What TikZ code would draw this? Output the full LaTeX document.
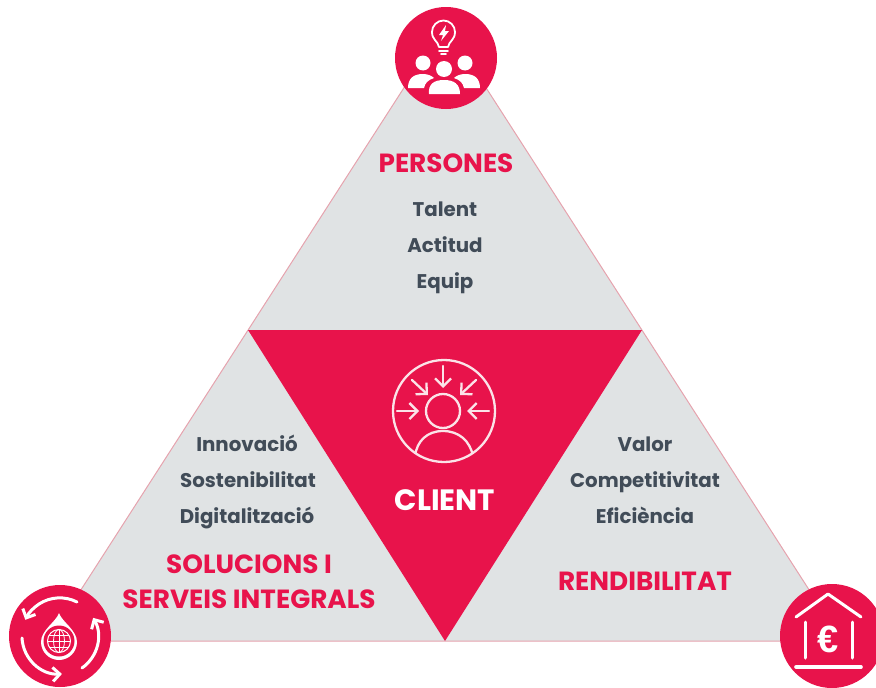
\documentclass[tikz,border=0pt]{standalone}
\usepackage{fontspec}
\setmainfont{Poppins}
\newfontfamily\eurofont{Liberation Sans}
\usetikzlibrary{arrows.meta}
\definecolor{crimson}{HTML}{E8134B}
\definecolor{panelgray}{HTML}{E0E3E4}
\definecolor{edgepink}{HTML}{E6A3AE}
\definecolor{slategray}{HTML}{414C58}
\definecolor{iconpink}{HTML}{FBE3E8}
\tikzset{
  redlabel/.style={text=crimson, yshift=-6pt, text height=.72em, text depth=0pt, font=\fontsize{26.3}{28}\selectfont\bfseries},
  graylabel/.style={text=slategray, yshift=-5pt, text height=.75em, text depth=.2em, font=\fontsize{19.8}{22}\selectfont\bfseries},
  iconline/.style={draw=white, line width=3pt, line cap=round, line join=round},
  thinline/.style={draw=iconpink, line width=2.3pt, line cap=round, line join=round},
  iconarrow/.style={iconline, -{Straight Barb[length=7pt,width=14pt]}},
  thinarrow/.style={thinline, -{Straight Barb[length=8pt,width=16pt]}},
}
\begin{document}
\begin{tikzpicture}[x=1pt,y=-1pt]
\useasboundingbox (0,0) rectangle (876,688);
\draw [edgepink, fill=panelgray, line width=1pt] (445,24) -- (842,641) -- (48,641) -- cycle;
\fill [crimson] (248,330) -- (642,330) -- (445,641) -- cycle;
\fill [crimson] (446,58) circle (51);
\fill [crimson] (60,636) circle (51);
\fill [crimson] (832,636) circle (52);
% top icon
\draw [iconline, line width=1.8pt] (439,47) .. controls (438,41) and (432,40) .. (432,32) arc (180:360:11.5) .. controls (455,40) and (449,41) .. (448,47) -- cycle;
\fill [white] (446,25) -- (439,35) -- (443,35) -- (441,41) -- (449,31) -- (445,31) -- cycle;
\draw [iconline, line width=1.6pt] (439,51) -- (448,51);
\draw [iconline, line width=1.6pt] (441,54) -- (446,54);
\fill [white] (423,63) circle (7.5);
\fill [white] (465,63) circle (7.5);
\fill [white] (408,88) .. controls (408,78) and (414,74) .. (423,74) .. controls (428,74) and (432,76) .. (434,78) .. controls (428,80) and (425,83) .. (424,88) -- cycle;
\fill [white] (480,88) .. controls (480,78) and (474,74) .. (465,74) .. controls (460,74) and (456,76) .. (454,78) .. controls (460,80) and (463,83) .. (464,88) -- cycle;
\fill [white] (444,69) circle (8);
\fill [white] (429,94) .. controls (428,84) and (434,80) .. (444,80) .. controls (454,80) and (460,84) .. (460,94) -- cycle;
% left icon
\draw [iconarrow] (77,602) arc (-63:-155:38);
\draw [iconarrow] (22,638) arc (177:87:38);
\draw [iconarrow] (82,668) arc (55:-30:38);
\fill [white] (59,613) .. controls (62,622) and (77,630) .. (77,642) arc (0:180:18) .. controls (41,630) and (56,622) .. (59,613) -- cycle;
\fill [crimson] (59,641) circle (15.5);
\draw [white, line width=1pt] (59,641) circle (11.5);
\draw [white, line width=.8pt] (59,629.5) -- (59,652.5);
\draw [white, line width=.8pt] (47.5,641) -- (70.5,641);
\draw [white, line width=.8pt] (49,635) -- (69,635);
\draw [white, line width=.8pt] (49,647) -- (69,647);
\draw [white, line width=.8pt] (59,641) ellipse (5.5 and 11.5);
% right icon
\draw [iconline] (796,617) -- (828,594) -- (861,617);
\draw [iconline] (805,622) -- (805,658);
\draw [iconline] (852,622) -- (852,658);
\draw [iconline, line width=3.6pt] (796,667) -- (861,667);
\node (euro) at (828,639) [text=white, font=\eurofont\fontsize{38}{40}\selectfont\bfseries] {€};
% client icon
\draw [thinline] (444,411) circle (51);
\draw [thinline] (443,411) circle (17);
\begin{scope}
\clip (444,411) circle (51);
\draw [thinline] (415,456) .. controls (417,441) and (427,431) .. (443,431) .. controls (459,431) and (470,441) .. (473,456);
\end{scope}
\draw [thinarrow] (443,366) -- (443,388);
\draw [thinarrow] (397,411) -- (419,411);
\draw [thinarrow] (489,411) -- (467,411);
\draw [thinarrow] (412,380) -- (428,395);
\draw [thinarrow] (476,380) -- (460,395);
% labels
\node (persones) at (446,163) [redlabel] {PERSONES};
\node (talent) at (445,209) [graylabel] {Talent};
\node (actitud) at (445,245) [graylabel] {Actitud};
\node (equip) at (445,281) [graylabel] {Equip};
\node (client) at (445,500) [redlabel, yshift=-1pt, text=white, font=\fontsize{29.4}{31}\selectfont\bfseries] {CLIENT};
\node (innovacio) at (247,444) [graylabel] {Innovació};
\node (sostenibilitat) at (248,480) [graylabel] {Sostenibilitat};
\node (digitalitzacio) at (247,516) [graylabel] {Digitalització};
\node (solucions) at (249,564) [redlabel] {SOLUCIONS I};
\node (serveis) at (249,599) [redlabel] {SERVEIS INTEGRALS};
\node (valor) at (645,444) [graylabel] {Valor};
\node (competitivitat) at (645,480) [graylabel] {Competitivitat};
\node (eficiencia) at (645,516) [graylabel] {Eficiència};
\node (rendibilitat) at (645,581) [redlabel] {RENDIBILITAT};
\end{tikzpicture}
\end{document}
